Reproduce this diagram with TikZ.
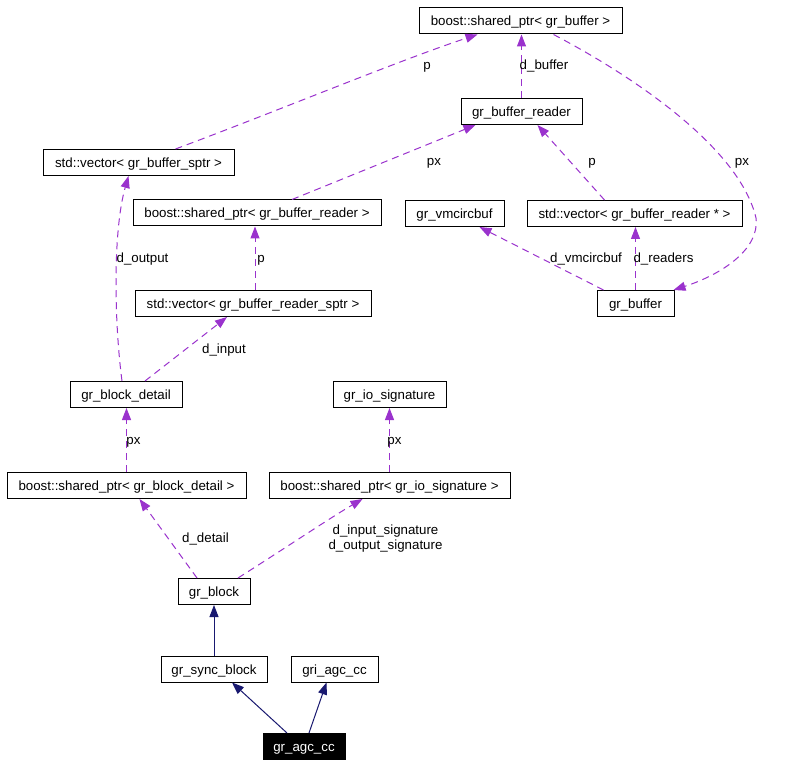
\documentclass[tikz,border=0pt]{standalone}
\usepackage{fontspec}
\setmainfont{Liberation Sans}
\usetikzlibrary{arrows.meta}
\definecolor{collab}{HTML}{9A32CD}
\definecolor{inherit}{HTML}{191970}
\tikzset{
  cls/.style={draw=black, line width=1pt, fill=white, inner sep=0pt, minimum height=26pt, text height=10pt, text depth=0pt, font=\fontsize{13.3}{16}\selectfont},
  lbl/.style={inner sep=0pt, anchor=base, font=\fontsize{13.3}{16}\selectfont},
  uses/.style={draw=collab, line width=1pt, dash pattern=on 7pt off 5pt, -{Triangle[length=12pt,width=9pt]}, collab},
  isa/.style={draw=inherit, line width=1pt, -{Triangle[length=12pt,width=9pt]}, inherit},
}
\begin{document}
\begin{tikzpicture}[x=1pt,y=-1pt]
\useasboundingbox[fill=white] (0,0) rectangle (800,767);
% nodes
\node[cls, minimum width=203pt] (sbuf) at (520.5,21) {boost::shared\_ptr< gr\_buffer >};
\node[cls, minimum width=121pt] (reader) at (521.5,111.5) {gr\_buffer\_reader};
\node[cls, minimum width=191pt] (vsptr) at (138.5,162.5) {std::vector< gr\_buffer\_sptr >};
\node[cls, minimum width=248pt] (sreader) at (257,213) {boost::shared\_ptr< gr\_buffer\_reader >};
\node[cls, minimum width=99pt] (vmc) at (454.5,213.5) {gr\_vmcircbuf};
\node[cls, minimum width=215pt] (vreader) at (634.5,213.5) {std::vector< gr\_buffer\_reader * >};
\node[cls, minimum width=236pt] (vrsptr) at (253,303.5) {std::vector< gr\_buffer\_reader\_sptr >};
\node[cls, minimum width=77pt] (gbuf) at (635.5,303.5) {gr\_buffer};
\node[cls, minimum width=112pt] (bdetail) at (126,394.5) {gr\_block\_detail};
\node[cls, minimum width=113pt] (iosig) at (389.5,394.5) {gr\_io\_signature};
\node[cls, minimum width=239pt] (sdetail) at (126.5,485.5) {boost::shared\_ptr< gr\_block\_detail >};
\node[cls, minimum width=241pt] (sio) at (389.5,485.5) {boost::shared\_ptr< gr\_io\_signature >};
\node[cls, minimum width=72pt] (block) at (214,591.5) {gr\_block};
\node[cls, minimum width=106pt] (sync) at (214,669) {gr\_sync\_block};
\node[cls, minimum width=87pt] (gri) at (334.5,669) {gri\_agc\_cc};
\node[cls, minimum width=82pt, fill=black, text=white] (agc) at (304,746.5) {gr\_agc\_cc};
% collaboration edges
\draw[uses] ([xshift=37pt]vsptr.north) .. controls (280,110) and (400,60) .. ([xshift=-43pt]sbuf.south);
\draw[uses] (reader.north) -- (reader.north |- sbuf.south);
\draw[uses] ([xshift=33pt]sbuf.south) .. controls (640,80) and (740,150) .. (756,218) .. controls (760,250) and (720,275) .. ([xshift=-1pt]gbuf.north east);
\draw[uses] ([xshift=35pt]sreader.north) -- ([xshift=-46pt]reader.south);
\draw[uses] ([xshift=-30pt]vreader.north) -- ([xshift=16pt]reader.south);
\draw[uses] ([xshift=-4pt]bdetail.north) .. controls (114,320) and (113,230) .. ([xshift=-10pt]vsptr.south);
\draw[uses] ([xshift=2pt]vrsptr.north) -- ([xshift=-2pt]sreader.south);
\draw[uses] ([xshift=19pt]bdetail.north) -- ([xshift=-26pt]vrsptr.south);
\draw[uses] ([xshift=-32pt]gbuf.north) -- ([xshift=25pt]vmc.south);
\draw[uses] (gbuf.north) -- (gbuf.north |- vreader.south);
\draw[uses] (sdetail.north) -- (sdetail.north |- bdetail.south);
\draw[uses] (sio.north) -- (iosig.south);
\draw[uses] ([xshift=-17pt]block.north) -- ([xshift=13pt]sdetail.south);
\draw[uses] ([xshift=24pt]block.north) .. controls (290,545) and (330,518) .. ([xshift=-27pt]sio.south);
% inheritance edges
\draw[isa] (sync.north) -- (block.south);
\draw[isa] ([xshift=-17pt]agc.north) -- ([xshift=18pt]sync.south);
\draw[isa] ([xshift=5pt]agc.north) -- ([xshift=-8pt]gri.south);
% labels
\node[lbl] (l1) at (427,70) {p};
\node[lbl] (l2) at (544,70) {d\_buffer};
\node[lbl] (l3) at (742,166) {px};
\node[lbl] (l4) at (434,166) {px};
\node[lbl] (l5) at (592,166) {p};
\node[lbl] (l6) at (142.5,262) {d\_output};
\node[lbl] (l7) at (261,262) {p};
\node[lbl] (l8) at (586,262) {d\_vmcircbuf};
\node[lbl] (l9) at (663.5,262) {d\_readers};
\node[lbl] (l10) at (224,353) {d\_input};
\node[lbl] (l11) at (133.5,444) {px};
\node[lbl] (l12) at (394.5,444) {px};
\node[lbl] (l13) at (205.5,542) {d\_detail};
\node[lbl] (l14) at (385.5,534) {d\_input\_signature};
\node[lbl] (l15) at (385.5,549) {d\_output\_signature};
\end{tikzpicture}
\end{document}
